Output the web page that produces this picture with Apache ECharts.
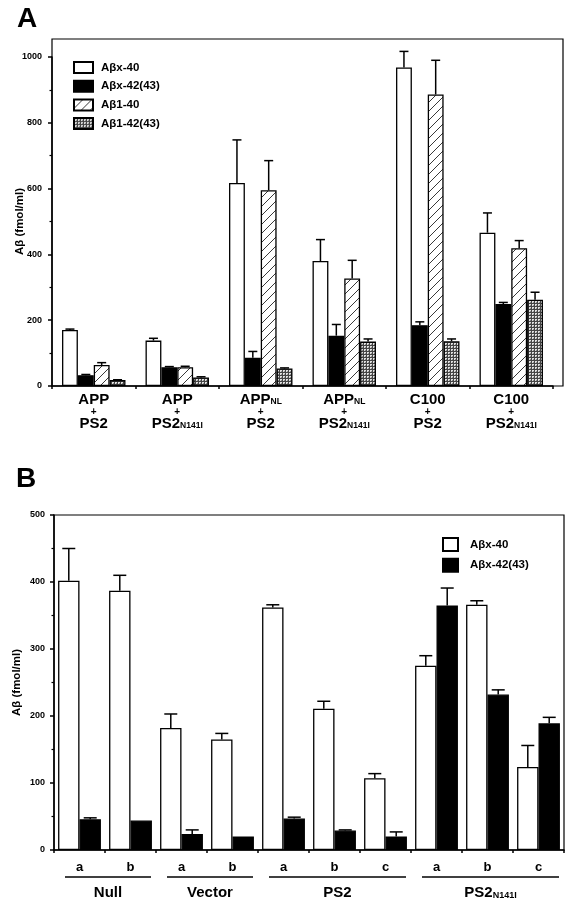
<!DOCTYPE html>
<html><head><meta charset="utf-8">
<script src="https://cdn.jsdelivr.net/npm/echarts@6/dist/echarts.min.js"></script>
<style>html,body{margin:0;padding:0;background:#fff}#c{width:574px;height:909px}</style>
</head><body><div id="c"></div>
<script>
// ---------- Panel A data ----------
const catsA = ['APP+PS2', 'APP+PS2N141I', 'APPNL+PS2', 'APPNL+PS2N141I', 'C100+PS2', 'C100+PS2N141I'];
const namesA = ['Aβx-40', 'Aβx-42(43)', 'Aβ1-40', 'Aβ1-42(43)'];
const aX40 = [170, 138, 617, 380, 968, 466];
const aX40Err = [3, 7, 131, 65, 49, 60];
const aX42 = [33, 57, 86, 153, 185, 249];
const aX42Err = [2, 2, 19, 34, 10, 5];
const a140 = [64, 57, 595, 327, 886, 419];
const a140Err = [7, 3, 90, 55, 104, 23];
const a142 = [18, 26, 53, 135, 136, 262];
const a142Err = [1, 2, 2, 8, 7, 23];
const yTicksA = [0, 200, 400, 600, 800, 1000];

// ---------- Panel B data ----------
const catsB = ['a', 'b', 'a', 'b', 'a', 'b', 'c', 'a', 'b', 'c'];
const groupsB = ['Null', 'Vector', 'PS2', 'PS2N141I'];
const groupSizesB = [2, 2, 3, 3];
const namesB = ['Aβx-40', 'Aβx-42(43)'];
const bX40 = [402, 387, 182, 165, 362, 211, 107, 275, 366, 124];
const bX40Err = [48, 23, 21, 9, 4, 11, 7, 15, 6, 32];
const bX42 = [46, 44, 24, 20, 47, 29, 20, 365, 232, 189];
const bX42Err = [2, 0, 6, 0, 2, 1, 7, 26, 7, 9];
const yTicksB = [0, 100, 200, 300, 400, 500];

const FONT = '"Liberation Sans", Arial, Helvetica, sans-serif';

function makeHatch() {
  const c = document.createElement('canvas'); c.width = 9; c.height = 9;
  const g = c.getContext('2d');
  g.fillStyle = '#fff'; g.fillRect(0, 0, 9, 9);
  g.strokeStyle = '#222'; g.lineWidth = 0.9;
  g.beginPath();
  g.moveTo(-1, 10); g.lineTo(10, -1);
  g.stroke();
  return c;
}
function makeDots() {
  const c = document.createElement('canvas'); c.width = 3; c.height = 3;
  const g = c.getContext('2d');
  g.fillStyle = '#e0e0e0'; g.fillRect(0, 0, 3, 3);
  g.fillStyle = '#444';
  g.fillRect(0, 0, 3, 1); g.fillRect(0, 0, 1, 3);
  g.fillStyle = '#888'; g.fillRect(2, 2, 1, 1);
  return c;
}
const fillsA = ['#fff', '#000', { image: makeHatch(), repeat: 'repeat' }, { image: makeDots(), repeat: 'repeat' }];
const fillsB = ['#fff', '#000'];

function errRender(i, n, frac, capW) {
  return function (params, api) {
    const x = api.value(0), v = api.value(1), e = api.value(2);
    if (!e) return null;
    const base = api.coord([x, v]);
    const top = api.coord([x, v + e]);
    const band = api.size([1, 0])[0];
    const cx = base[0] + (i - (n - 1) / 2) * band * frac;
    const st = { stroke: '#000', lineWidth: 1.5 };
    return { type: 'group', children: [
      { type: 'line', shape: { x1: cx, y1: base[1], x2: cx, y2: top[1] }, style: st },
      { type: 'line', shape: { x1: cx - capW / 2, y1: top[1], x2: cx + capW / 2, y2: top[1] }, style: st }
    ] };
  };
}

const valsA = [aX40, aX42, a140, a142];
const errsA = [aX40Err, aX42Err, a140Err, a142Err];
const valsB = [bX40, bX42];
const errsB = [bX40Err, bX42Err];
const FRAC_A = 0.19, FRAC_B = 0.42;

const series = [];
valsA.forEach((vals, i) => {
  series.push({ name: namesA[i], type: 'bar', xAxisIndex: 0, yAxisIndex: 0, data: vals,
    barWidth: (FRAC_A * 100) + '%', barGap: '0%',
    itemStyle: { color: fillsA[i], borderColor: '#000', borderWidth: 1.3 }, z: 2 });
});
valsA.forEach((vals, i) => {
  series.push({ name: 'errA' + i, type: 'custom', xAxisIndex: 0, yAxisIndex: 0,
    data: vals.map((v, k) => [k, v, errsA[i][k]]), encode: { x: 0, y: 1 },
    renderItem: errRender(i, 4, FRAC_A, 9), z: 3 });
});
valsB.forEach((vals, i) => {
  series.push({ name: namesB[i], type: 'bar', xAxisIndex: 1, yAxisIndex: 1, data: vals,
    barWidth: (FRAC_B * 100) + '%', barGap: '0%',
    itemStyle: { color: fillsB[i], borderColor: '#000', borderWidth: 1.3 }, z: 2 });
});
valsB.forEach((vals, i) => {
  series.push({ name: 'errB' + i, type: 'custom', xAxisIndex: 1, yAxisIndex: 1,
    data: vals.map((v, k) => [k, v, errsB[i][k]]), encode: { x: 0, y: 1 },
    renderItem: errRender(i, 2, FRAC_B, 13), z: 3 });
});

function labelA(v) {
  return v.split('+').map(p => {
    const m = p.match(/^(APP|PS2|C100)(.*)$/);
    return '{b|' + m[1] + '}' + (m[2] ? '{s|' + m[2] + '}' : '');
  }).join('\n{p|+}\n');
}
const plainNum = v => String(v);

const axisLine = { show: true, lineStyle: { color: '#000', width: 1.5 } };
const chart = echarts.init(document.getElementById('c'), null, { renderer: 'canvas' });
chart.setOption({
  animation: false,
  backgroundColor: '#fff',
  textStyle: { fontFamily: FONT },
  title: [
    { text: 'A', left: 17, top: 5, padding: 0, textStyle: { fontFamily: FONT, fontSize: 28, fontWeight: 'bold', color: '#000' } },
    { text: 'B', left: 16, top: 465, padding: 0, textStyle: { fontFamily: FONT, fontSize: 28, fontWeight: 'bold', color: '#000' } }
  ],
  legend: [
    { data: namesA, orient: 'vertical', left: 73, top: 61, padding: 0, itemWidth: 19, itemHeight: 11, itemGap: 5.7,
      icon: 'rect', selectedMode: false,
      textStyle: { fontFamily: FONT, fontSize: 11.5, fontWeight: 'bold', color: '#000', lineHeight: 13, padding: [0, 0, 0, 3] } },
    { data: namesB, orient: 'vertical', left: 442, top: 537, padding: 0, itemWidth: 15, itemHeight: 13, itemGap: 5.7,
      icon: 'rect', selectedMode: false,
      textStyle: { fontFamily: FONT, fontSize: 11.5, fontWeight: 'bold', color: '#000', lineHeight: 13, padding: [0, 0, 0, 7] } }
  ],
  grid: [
    { left: 52, top: 57, width: 501, height: 329, containLabel: false, outerBoundsMode: 'none' },
    { left: 54, top: 515, width: 510, height: 335, containLabel: false, outerBoundsMode: 'none',
      show: true, borderColor: '#000', borderWidth: 1.2, backgroundColor: 'transparent' }
  ],
  xAxis: [
    { gridIndex: 0, type: 'category', data: catsA, axisLine,
      axisTick: { show: true, length: 3, interval: 0, lineStyle: { color: '#000', width: 1.5 } },
      axisLabel: { interval: 0, margin: 8, formatter: labelA, color: '#000',
        rich: {
          b: { fontFamily: FONT, fontSize: 15, fontWeight: 'bold', lineHeight: 12, color: '#000' },
          s: { fontFamily: FONT, fontSize: 8.5, fontWeight: 'bold', lineHeight: 8, verticalAlign: 'bottom', color: '#000' },
          p: { fontFamily: FONT, fontSize: 10, fontWeight: 'bold', lineHeight: 12, color: '#000' }
        } } },
    { gridIndex: 1, type: 'category', data: catsB, axisLine,
      axisTick: { show: true, length: 3, interval: 0, lineStyle: { color: '#000', width: 1.5 } },
      axisLabel: { interval: 0, margin: 11, fontFamily: FONT, fontSize: 13, fontWeight: 'bold', color: '#000', lineHeight: 13 } }
  ],
  yAxis: [
    { gridIndex: 0, type: 'value', min: yTicksA[0], max: yTicksA[yTicksA.length - 1], interval: yTicksA[1] - yTicksA[0],
      name: 'Aβ (fmol/ml)', nameLocation: 'middle', nameGap: 26, nameMoveOverlap: false,
      nameTextStyle: { fontFamily: FONT, fontSize: 11.5, fontWeight: 'bold', color: '#000' },
      axisLine, splitLine: { show: false },
      axisTick: { show: true, length: 4, lineStyle: { color: '#000', width: 1.5 } },
      minorTick: { show: true, splitNumber: 2, length: 2.5, lineStyle: { color: '#000', width: 1.2 } },
      axisLabel: { margin: 10, formatter: plainNum, fontFamily: FONT, fontSize: 9, fontWeight: 'bold', color: '#000' } },
    { gridIndex: 1, type: 'value', min: yTicksB[0], max: yTicksB[yTicksB.length - 1], interval: yTicksB[1] - yTicksB[0],
      name: 'Aβ (fmol/ml)', nameLocation: 'middle', nameGap: 31, nameMoveOverlap: false,
      nameTextStyle: { fontFamily: FONT, fontSize: 11.5, fontWeight: 'bold', color: '#000' },
      axisLine, splitLine: { show: false },
      axisTick: { show: true, length: 4, lineStyle: { color: '#000', width: 1.5 } },
      minorTick: { show: true, splitNumber: 2, length: 2.5, lineStyle: { color: '#000', width: 1.2 } },
      axisLabel: { margin: 9, formatter: plainNum, fontFamily: FONT, fontSize: 9, fontWeight: 'bold', color: '#000' } }
  ],
  series
});

// Frame of panel A and group labels of panel B
const gfx = [];
gfx.push({ type: 'rect', shape: { x: 52, y: 39, width: 511, height: 347 },
  style: { fill: null, stroke: '#000', lineWidth: 1.2 }, z: 10, silent: true });

const c0 = chart.convertToPixel({ xAxisIndex: 1 }, 0);
const c1 = chart.convertToPixel({ xAxisIndex: 1 }, 1);
const band = c1 - c0;
let start = 0;
const yBase = chart.convertToPixel({ yAxisIndex: 1 }, 0);
groupsB.forEach((g, gi) => {
  const n = groupSizesB[gi];
  const left = chart.convertToPixel({ xAxisIndex: 1 }, start) - band / 2;
  const right = chart.convertToPixel({ xAxisIndex: 1 }, start + n - 1) + band / 2;
  const x1 = left + 11, x2 = right - 5;
  gfx.push({ type: 'line', shape: { x1, y1: yBase + 27, x2, y2: yBase + 27 },
    style: { stroke: '#000', lineWidth: 1.5 }, silent: true });
  const m = g.match(/^(PS2)(N141I)$/);
  const txt = m ? '{b|' + m[1] + '}{s|' + m[2] + '}' : '{b|' + g + '}';
  gfx.push({ type: 'text', x: (x1 + x2) / 2, y: yBase + 43, silent: true,
    style: { text: txt, align: 'center', verticalAlign: 'middle',
      rich: {
        b: { fontFamily: FONT, fontSize: 15, fontWeight: 'bold', lineHeight: 14, fill: '#000' },
        s: { fontFamily: FONT, fontSize: 9, fontWeight: 'bold', lineHeight: 9, verticalAlign: 'bottom', fill: '#000' }
      } } });
  start += n;
});
chart.setOption({ graphic: gfx });
</script>
</body></html>
